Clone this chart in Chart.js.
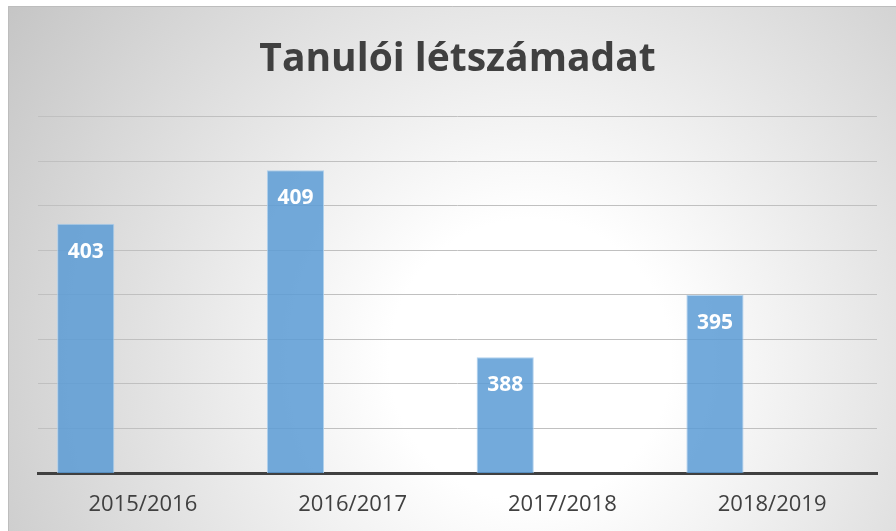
<!DOCTYPE html>
<html>
<head>
<meta charset="utf-8">
<script src="https://cdn.jsdelivr.net/npm/chart.js@4/dist/chart.umd.min.js"></script>
<style>
  html, body { margin: 0; padding: 0; background: #ffffff; }
  #wrap { position: relative; width: 896px; height: 531px; }
</style>
</head>
<body>
<div id="wrap"><canvas id="chart" width="896" height="531"></canvas></div>
<script>
  const title = 'Tanulói létszámadat';
  const categories = ['2015/2016', '2016/2017', '2017/2018', '2018/2019'];
  const students = [403, 409, 388, 395];
  const emptySeries = [null, null, null, null];
  const yMin = 375;
  const yMax = 415;
  const yStep = 5;

  // Excel-like radial background with a thin frame
  const backgroundPlugin = {
    id: 'bgGradient',
    beforeDraw(chart) {
      const ctx = chart.ctx;
      ctx.save();
      ctx.fillStyle = '#ffffff';
      ctx.fillRect(0, 0, chart.width, chart.height);
      const g = ctx.createRadialGradient(530, 360, 0, 530, 360, 640);
      g.addColorStop(0, '#ffffff');
      g.addColorStop(0.22, '#ffffff');
      g.addColorStop(1, '#c4c4c4');
      ctx.fillStyle = g;
      ctx.fillRect(8, 6, chart.width - 8, chart.height - 6);
      ctx.strokeStyle = '#bdbdbd';
      ctx.lineWidth = 1;
      ctx.beginPath();
      ctx.moveTo(8.5, chart.height);
      ctx.lineTo(8.5, 6.5);
      ctx.lineTo(chart.width, 6.5);
      ctx.stroke();
      ctx.restore();
    }
  };

  // value labels inside the top of each bar
  const valueLabels = {
    id: 'valueLabels',
    afterDatasetsDraw(chart) {
      const ctx = chart.ctx;
      const meta = chart.getDatasetMeta(0);
      ctx.save();
      ctx.fillStyle = '#ffffff';
      ctx.font = 'bold 21px "Open Sans", sans-serif';
      ctx.textAlign = 'center';
      ctx.textBaseline = 'middle';
      meta.data.forEach((bar, i) => {
        ctx.fillText(String(students[i]), bar.x, bar.y + 28);
      });
      ctx.restore();
    }
  };

  new Chart(document.getElementById('chart'), {
    type: 'bar',
    data: {
      labels: categories,
      datasets: [
        {
          label: 'Tanulók',
          data: students,
          backgroundColor: 'rgba(91, 155, 213, 0.85)',
          borderColor: 'rgba(170, 205, 236, 0.9)',
          borderWidth: 1,
          barPercentage: 0.5,
          categoryPercentage: 1.09
        },
        {
          label: '',
          data: emptySeries,
          barPercentage: 0.5,
          categoryPercentage: 1.09
        }
      ]
    },
    options: {
      responsive: false,
      animation: false,
      layout: { padding: { left: 38, right: 19, top: 6, bottom: 0 } },
      plugins: {
        legend: { display: false },
        tooltip: { enabled: false },
        title: {
          display: true,
          text: title,
          color: '#404040',
          font: { family: '"Open Sans", sans-serif', size: 39, weight: 'bold' },
          padding: { top: 30, bottom: 34 }
        }
      },
      scales: {
        x: {
          grid: { display: false, drawTicks: false },
          border: { display: true, color: '#404040', width: 3 },
          ticks: {
            color: '#404040',
            font: { family: '"Open Sans", sans-serif', size: 22 },
            padding: 19
          },
          afterFit(scale) { scale.height = 58; }
        },
        y: {
          min: yMin,
          max: yMax,
          ticks: { display: false, stepSize: yStep },
          grid: { color: '#c0c0c0', lineWidth: 1, drawTicks: false },
          border: { display: false }
        }
      }
    },
    plugins: [backgroundPlugin, valueLabels]
  });
</script>
</body>
</html>
